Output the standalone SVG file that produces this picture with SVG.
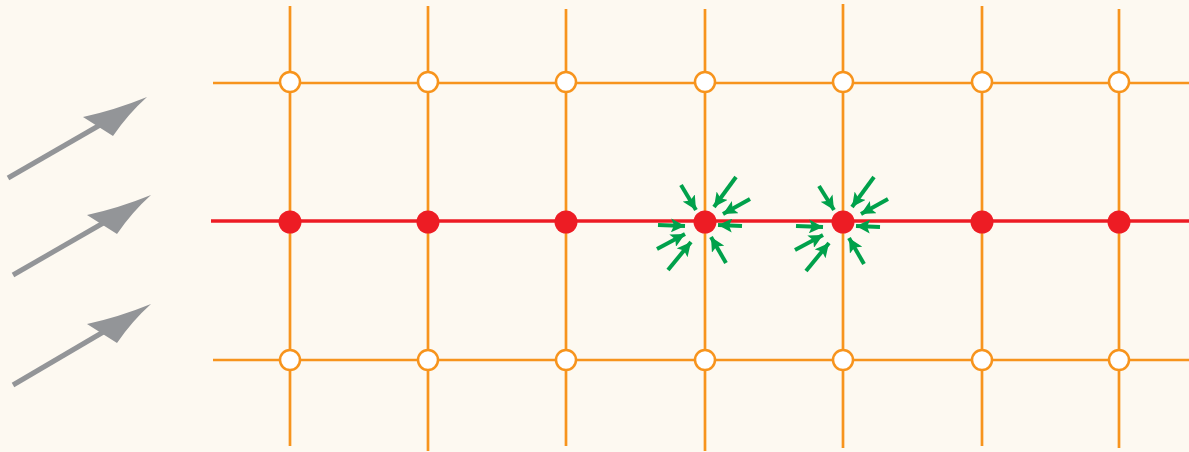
<svg xmlns="http://www.w3.org/2000/svg" width="1189" height="452" viewBox="0 0 1189 452">
<style>
.grid{stroke:#f7941d;stroke-width:2.7;fill:none}
.redline{stroke:#ed1c24;stroke-width:3.5;fill:none}
.open{fill:#ffffff;stroke:#f7941d;stroke-width:2.5}
.solid{fill:#ed1c24}
.wind{stroke:#939598;stroke-width:5;fill:none}
.windhead{fill:#939598}
.g{stroke:#00a14b;stroke-width:4;fill:none;marker-end:url(#gh)}
</style>
<defs>
<marker id="gh" markerUnits="userSpaceOnUse" markerWidth="15" markerHeight="14" refX="14" refY="7" orient="auto" viewBox="0 0 15 14">
<path d="M0,0 L14,7 L0,14 L3,7 Z" fill="#00a14b"/>
</marker>
</defs>
<rect width="1189" height="452" fill="#fdf9f1"/>
<g id="connectors">
<line class="grid" x1="213" y1="83" x2="1189" y2="83"/>
<line class="grid" x1="213" y1="360" x2="1189" y2="360"/>
<line class="grid" x1="290" y1="6" x2="290" y2="446"/>
<line class="grid" x1="428" y1="6" x2="428" y2="451"/>
<line class="grid" x1="566" y1="9" x2="566" y2="446"/>
<line class="grid" x1="705" y1="9" x2="705" y2="451"/>
<line class="grid" x1="843" y1="4" x2="843" y2="448"/>
<line class="grid" x1="982" y1="6" x2="982" y2="446"/>
<line class="grid" x1="1119" y1="9" x2="1119" y2="448"/>
<line class="redline" x1="211" y1="221" x2="1189" y2="221"/>
</g>
<g id="wind-arrows">
<g id="wind1"><line class="wind" x1="8" y1="178" x2="100" y2="125"/><path class="windhead" d="M147,97 Q115,110 83,117 L113,136 Q128,114 147,97 Z"/></g>
<g id="wind2"><line class="wind" x1="13" y1="275" x2="105" y2="222"/><path class="windhead" d="M151,195 Q119,208 87,215 L117,234 Q132,212 151,195 Z"/></g>
<g id="wind3"><line class="wind" x1="13" y1="385" x2="105" y2="331"/><path class="windhead" d="M151,304 Q119,317 87,324 L117,343 Q132,321 151,304 Z"/></g>
</g>
<g id="nodes-top">
<circle class="open" cx="290" cy="82" r="10"/>
<circle class="open" cx="428" cy="82" r="10"/>
<circle class="open" cx="566" cy="82" r="10"/>
<circle class="open" cx="705" cy="82" r="10"/>
<circle class="open" cx="843" cy="82" r="10"/>
<circle class="open" cx="982" cy="82" r="10"/>
<circle class="open" cx="1119" cy="82" r="10"/>
</g>
<g id="nodes-bottom">
<circle class="open" cx="290" cy="360" r="10"/>
<circle class="open" cx="428" cy="360" r="10"/>
<circle class="open" cx="566" cy="360" r="10"/>
<circle class="open" cx="705" cy="360" r="10"/>
<circle class="open" cx="843" cy="360" r="10"/>
<circle class="open" cx="982" cy="360" r="10"/>
<circle class="open" cx="1119" cy="360" r="10"/>
</g>
<g id="nodes-middle">
<circle class="solid" cx="290" cy="222" r="11.5"/>
<circle class="solid" cx="428" cy="222" r="11.5"/>
<circle class="solid" cx="566" cy="222" r="11.5"/>
<circle class="solid" cx="705" cy="222" r="11.5"/>
<circle class="solid" cx="843" cy="222" r="11.5"/>
<circle class="solid" cx="982" cy="222" r="11.5"/>
<circle class="solid" cx="1119" cy="222" r="11.5"/>
</g>
<g id="green-arrows-1">
<line class="g" x1="681" y1="185" x2="696" y2="210"/>
<line class="g" x1="736" y1="177" x2="714" y2="207"/>
<line class="g" x1="750" y1="199" x2="723" y2="214"/>
<line class="g" x1="658" y1="225" x2="685" y2="226"/>
<line class="g" x1="742" y1="226" x2="718" y2="225"/>
<line class="g" x1="657" y1="249" x2="685" y2="234"/>
<line class="g" x1="668" y1="270" x2="691" y2="242"/>
<line class="g" x1="726" y1="263" x2="711" y2="237"/>
</g>
<g id="green-arrows-2">
<line class="g" x1="819" y1="186" x2="834" y2="210"/>
<line class="g" x1="874" y1="177" x2="852" y2="207"/>
<line class="g" x1="888" y1="199" x2="861" y2="214"/>
<line class="g" x1="796" y1="226" x2="823" y2="227"/>
<line class="g" x1="880" y1="227" x2="856" y2="226"/>
<line class="g" x1="795" y1="250" x2="823" y2="235"/>
<line class="g" x1="806" y1="271" x2="829" y2="243"/>
<line class="g" x1="864" y1="264" x2="849" y2="238"/>
</g>
</svg>
